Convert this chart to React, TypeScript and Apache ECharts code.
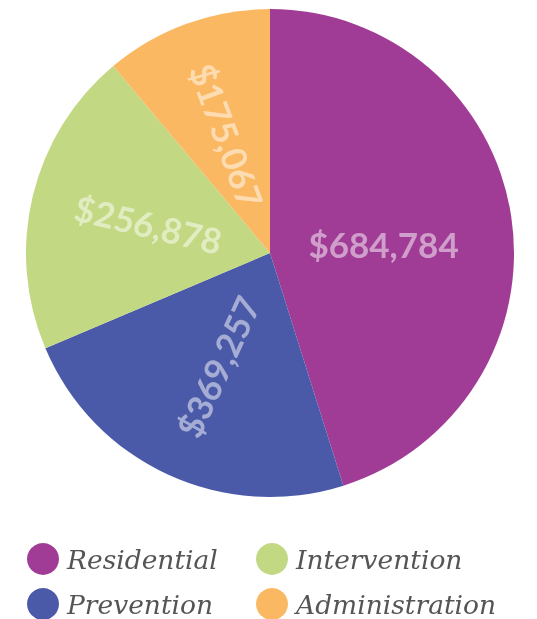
import React, { useEffect, useRef } from "react";
import * as echarts from "echarts";

const categories = ["Residential", "Prevention", "Intervention", "Administration"];
// Dollar amounts printed on the slices
const values = [684784, 369257, 256878, 175067];
// Slice sweep angles (degrees) as measured in the reference picture
const sliceDegrees = [162.5, 84.5, 73, 40];
const colors = ["#a03c95", "#4a5aa8", "#c2d882", "#fbb862"];

function fmt(v: number): string {
  return "$" + v.toLocaleString("en-US");
}

export default function App() {
  const ref = useRef<HTMLDivElement>(null);
  useEffect(() => {
    if (!ref.current) return;
    const chart = echarts.init(ref.current, undefined, { renderer: "svg" });
    const legendText = {
      fontFamily: "DejaVu Serif",
      fontStyle: "italic",
      fontSize: 26.5,
      color: "#555555",
      padding: [0, 0, 0, 3],
    };
    const legendBase = {
      orient: "vertical",
      top: 543,
      height: 120,
      padding: 0,
      itemWidth: 32,
      itemHeight: 32,
      itemGap: 13,
      icon: "circle",
      textStyle: legendText,
    };
    chart.setOption({
      animation: false,
      color: colors,
      legend: [
        { ...legendBase, left: 27, data: [categories[0], categories[1]] },
        { ...legendBase, left: 256, data: [categories[2], categories[3]] },
      ],
      series: [
        {
          type: "pie",
          center: [270, 253],
          radius: [0, 244],
          startAngle: 90,
          clockwise: true,
          label: {
            show: true,
            position: "inside",
            rotate: "radial",
            color: "rgba(255,255,255,0.5)",
            fontFamily: "Lato",
            fontWeight: "bold",
            fontSize: 35,
            formatter: (p: any) => fmt(values[p.dataIndex]),
          },
          labelLayout: (p: any) => (p.dataIndex === 0 ? { dx: -10, dy: 10 } : {}),
          labelLine: { show: false },
          emphasis: { disabled: true },
          data: categories.map((c, i) => ({
            name: c,
            value: sliceDegrees[i],
            ...(i === 0 ? { label: { rotate: 0 } } : {}),
          })),
        },
      ],
    });
    return () => chart.dispose();
  }, []);
  return (
    <div
      ref={ref}
      style={{ position: "fixed", left: 0, top: 0, width: 537, height: 619 }}
    />
  );
}
